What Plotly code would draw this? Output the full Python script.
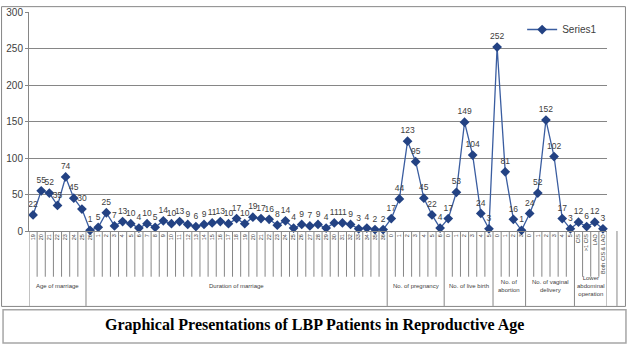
import plotly.graph_objects as go

# ---- data ----
age_labels = ["19", "20", "21", "22", "23", "24", "25"]
age_values = [22, 55, 52, 35, 74, 45, 30]

dur_labels = ["26"] + [str(i) for i in range(1, 37)]
dur_values = [1, 5, 25, 7, 13, 10, 4, 10, 5, 14, 10, 13, 9, 6, 9, 11, 13, 10, 17, 10,
              19, 17, 16, 8, 14, 4, 9, 7, 9, 4, 11, 11, 9, 3, 4, 2, 2]

preg_labels = ["0", "1", "2", "3", "4", "5", "6"]
preg_values = [17, 44, 123, 95, 45, 22, 4]

live_labels = ["0", "1", "2", "3", "4", "5"]
live_values = [17, 53, 149, 104, 24, 3]

abort_labels = ["0", "1", "2", "3"]
abort_values = [252, 81, 16, 1]

vag_labels = ["0", "1", "2", "3", "4", "5"]
vag_values = [24, 52, 152, 102, 17, 3]

lao_labels = ["C/S", ">1 C/S", "LAO", "Both C/S & LAO"]
lao_values = [12, 6, 12, 3]

group_names = ["Age of marriage", "Duration of marriage", "No. of pregnancy",
               "No. of live birth", "No. of<br>abortion", "No. of vaginal<br>delivery",
               "Lower<br>abdominal<br>operation"]
groups = [(age_labels, age_values), (dur_labels, dur_values), (preg_labels, preg_values),
          (live_labels, live_values), (abort_labels, abort_values), (vag_labels, vag_values),
          (lao_labels, lao_values)]

labels, values, bounds = [], [], [0]
for lab, val in groups:
    labels += lab
    values += val
    bounds.append(bounds[-1] + len(lab))
xs = list(range(len(values)))

# ---- geometry helpers (pixel -> paper) ----
L, R, T, B = 28, 607, 6, 231
W, H = 628, 349
def px(x): return (x - L) / (R - L)
def py(y): return (B - y) / (B - T)

fig = go.Figure()
fig.add_trace(go.Scatter(
    x=xs, y=values, mode="lines+markers+text", name="Series1",
    text=[str(v) for v in values], textposition="top center",
    textfont=dict(size=8.5, color="#404040", family="Liberation Sans"),
    line=dict(color="#3A5DA0", width=1.3),
    marker=dict(symbol="diamond", size=7.5, color="#234283"),
    cliponaxis=False,
))

grey = "#868686"
shapes = []
for k in range(len(values) + 1):
    is_group = k in bounds
    shapes.append(dict(type="line", xref="x", yref="paper", x0=k - 0.5, x1=k - 0.5,
                       y0=0, y1=py(308 if is_group else 278),
                       line=dict(color=grey, width=1)))
shapes.append(dict(type="line", xref="paper", yref="paper", x0=px(617), x1=px(617),
                   y0=0, y1=py(308), line=dict(color=grey, width=1)))
shapes.append(dict(type="rect", xref="paper", yref="paper", x0=px(0.5), x1=px(625.5),
                   y0=py(0.5), y1=py(308.5), line=dict(color=grey, width=1)))
shapes.append(dict(type="rect", xref="paper", yref="paper", x0=px(2), x1=px(626),
                   y0=py(312), y1=py(346), line=dict(color="#A6A6A6", width=1.5)))

annotations = []
for i, name in enumerate(group_names):
    cx = (bounds[i] + bounds[i + 1] - 1) / 2
    annotations.append(dict(x=cx, y=py(288), xref="x", yref="paper", text=name,
                            showarrow=False, font=dict(size=6, color="#404040",
                                                        family="Liberation Sans"),
                            xanchor="center", yanchor="middle"))
annotations.append(dict(x=px(314), y=py(328), xref="paper", yref="paper",
                        text="<b>Graphical Presentations of LBP Patients in Reproductive Age</b>",
                        showarrow=False, xanchor="center", yanchor="middle",
                        font=dict(size=16, color="#000000", family="Liberation Serif")))

fig.update_layout(
    width=W, height=H, autosize=False,
    margin=dict(l=L, r=W - R, t=T, b=H - B),
    paper_bgcolor="white", plot_bgcolor="white",
    showlegend=True,
    legend=dict(x=px(522), y=py(24), xanchor="left", yanchor="middle",
                font=dict(size=10, color="#404040", family="Liberation Sans"),
                itemwidth=30, bgcolor="rgba(0,0,0,0)"),
    shapes=shapes, annotations=annotations,
    xaxis=dict(range=[-0.5, len(values) - 0.5], tickmode="array", tickvals=xs,
               ticktext=labels, tickangle=-90, showgrid=False, zeroline=False,
               showline=True, linecolor=grey, ticks="",
               tickfont=dict(size=5.5, color="#404040", family="Liberation Sans")),
    yaxis=dict(range=[0, 300], dtick=50, showgrid=True, gridcolor=grey, gridwidth=1,
               zeroline=False, showline=True, linecolor=grey, ticks="outside",
               ticklen=3, tickcolor=grey,
               tickfont=dict(size=10, color="#404040", family="Liberation Sans")),
)

fig.write_html("out.html")
